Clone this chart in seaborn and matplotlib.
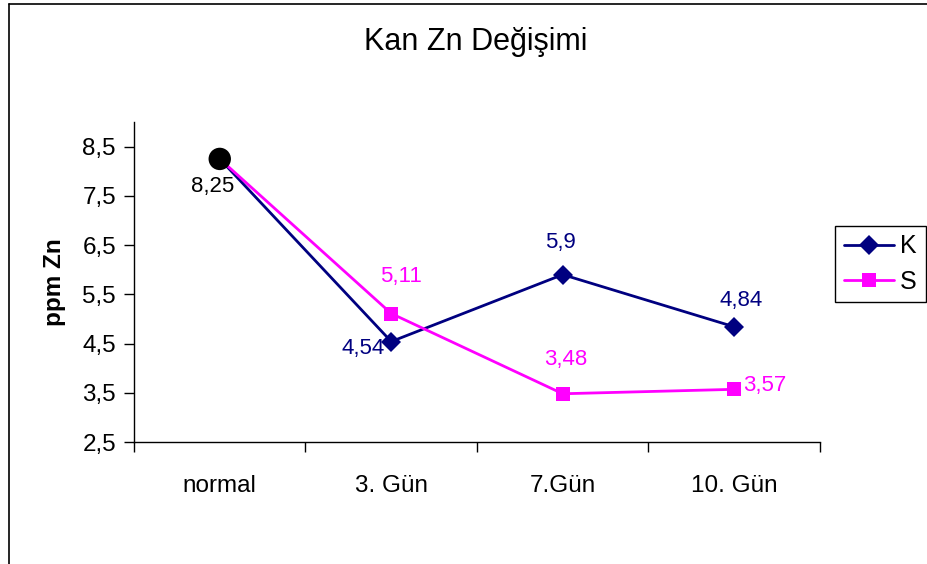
import numpy as np
import pandas as pd
import matplotlib.pyplot as plt
import seaborn as sns
from matplotlib.lines import Line2D

days = ["normal", "3. Gün", "7.Gün", "10. Gün"]
k_values = [8.25, 4.54, 5.9, 4.84]
s_values = [8.25, 5.11, 3.48, 3.57]
y_ticks = [2.5, 3.5, 4.5, 5.5, 6.5, 7.5, 8.5]

NAVY = "#000080"
MAGENTA = "#FF00FF"


def comma(v):
    return ("%g" % v).replace(".", ",")


def build_frame():
    pos = np.arange(len(days))
    df = pd.DataFrame({
        "pos": np.concatenate([pos, pos]),
        "val": k_values + s_values,
        "seri": ["K"] * len(days) + ["S"] * len(days),
    })
    return df


def draw_chart():
    sns.set_style("white")
    plt.rcParams["font.family"] = ["Liberation Sans", "DejaVu Sans"]
    plt.rcParams.update({"text.color": "black", "axes.labelcolor": "black",
                         "xtick.color": "black", "ytick.color": "black"})
    df = build_frame()

    fig = plt.figure(figsize=(9.28, 5.64), dpi=100)
    ax = fig.add_axes([0.1444, 0.2163, 0.7392, 0.5674])

    sns.lineplot(data=df, x="pos", y="val", hue="seri", style="seri",
                 palette={"K": NAVY, "S": MAGENTA},
                 markers={"K": "D", "S": "s"}, dashes=False,
                 markersize=10, markeredgewidth=0, linewidth=2,
                 sort=False, legend=False, ax=ax)
    # first point highlighted with a black dot
    sns.scatterplot(x=[0], y=[k_values[0]], color="black", s=260,
                    zorder=5, ax=ax, edgecolor="none")

    ax.set_xlim(-0.5, len(days) - 0.5)
    ax.set_ylim(2.5, 9.0)
    ax.set_yticks(y_ticks)
    ax.set_yticklabels([comma(v) for v in y_ticks], fontsize=17.5)
    ax.set_xticks(np.arange(len(days)))
    ax.set_xticklabels(days, fontsize=17.5)
    ax.set_xticks(np.arange(len(days) + 1) - 0.5, minor=True)
    ax.tick_params(axis="x", which="major", length=0, pad=24)
    ax.tick_params(axis="x", which="minor", length=7, width=1,
                   direction="out", color="black", bottom=True)
    ax.tick_params(axis="y", length=7, width=1, direction="out",
                   color="black", left=True, pad=6)
    ax.set_xlabel("")
    ax.set_ylabel("ppm Zn", fontsize=17.5, fontweight="bold", labelpad=12)

    for side in ["top", "right"]:
        ax.spines[side].set_visible(False)
    for side in ["left", "bottom"]:
        ax.spines[side].set_color("black")
        ax.spines[side].set_linewidth(1)

    # data labels
    ax.annotate(comma(k_values[0]), (0, k_values[0]), xytext=(-5, -20),
                textcoords="offset points", ha="center", va="center",
                fontsize=16, color="black")
    k_off = [None, (-20, -5), (-2, 23), (5, 19)]
    s_off = [None, (7, 27), (2, 25), (22, 3)]
    for i in range(1, len(days)):
        ax.annotate(comma(k_values[i]), (i, k_values[i]), xytext=k_off[i],
                    textcoords="offset points", ha="center", va="center",
                    fontsize=16, color=NAVY)
        ax.annotate(comma(s_values[i]), (i, s_values[i]), xytext=s_off[i],
                    textcoords="offset points", ha="center", va="center",
                    fontsize=16, color=MAGENTA)

    fig.text(0.513, 0.925, "Kan Zn Değişimi", ha="center", va="center",
             fontsize=22)

    handles = [
        Line2D([], [], color=NAVY, marker="D", markersize=10,
               markeredgewidth=0, linewidth=2),
        Line2D([], [], color=MAGENTA, marker="s", markersize=10,
               markeredgewidth=0, linewidth=2),
    ]
    leg = fig.legend(handles, ["K", "S"], loc="upper left",
                     bbox_to_anchor=(0.9, 0.6), fontsize=18, frameon=True,
                     fancybox=False, edgecolor="black", framealpha=1,
                     handlelength=2.0, handletextpad=0.25, borderpad=0.35,
                     labelspacing=0.45, borderaxespad=0)
    leg.get_frame().set_linewidth(1)

    # outer chart border, only top and left edges are visible
    fig.add_artist(Line2D([0.0097, 1.0], [0.993, 0.993],
                          transform=fig.transFigure, color="black",
                          linewidth=1.2))
    fig.add_artist(Line2D([0.0097, 0.0097], [0.0, 0.993],
                          transform=fig.transFigure, color="black",
                          linewidth=1.2))

    fig.savefig("out.png", dpi=100)


draw_chart()
